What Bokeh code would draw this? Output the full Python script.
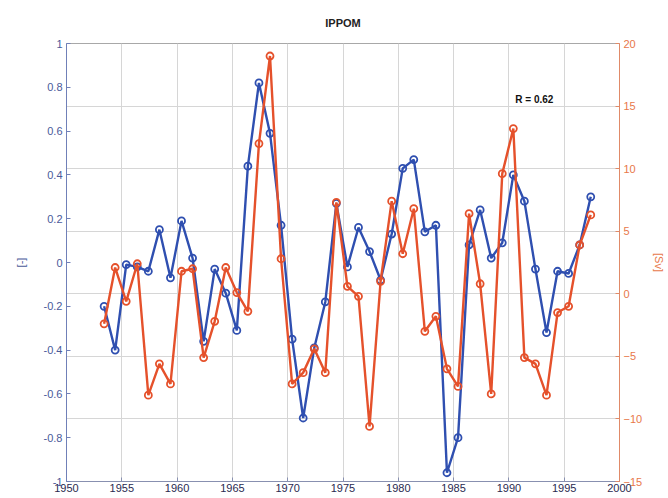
from bokeh.plotting import figure
from bokeh.models import (Range1d, LinearAxis, FixedTicker, Grid, Label,
                          CustomJSTickFormatter, ColumnDataSource)
from bokeh.embed import file_html
from bokeh.resources import INLINE

# ---- data ----
years = list(range(1953, 1998))
ippom_index = [-0.20, -0.40, -0.01, -0.02, -0.04, 0.15, -0.07, 0.19, 0.02, -0.36,
               -0.03, -0.14, -0.31, 0.44, 0.82, 0.59, 0.17, -0.35, -0.71, -0.39,
               -0.18, 0.27, -0.02, 0.16, 0.05, -0.08, 0.13, 0.43, 0.47, 0.14,
               0.17, -0.96, -0.80, 0.08, 0.24, 0.02, 0.09, 0.40, 0.28, -0.03,
               -0.32, -0.04, -0.05, 0.08, 0.30]
transport_sv = [-2.4, 2.1, -0.6, 2.4, -8.1, -5.6, -7.2, 1.8, 2.0, -5.1,
                -2.2, 2.1, 0.1, -1.4, 12.0, 19.0, 2.8, -7.2, -6.3, -4.4,
                -6.3, 7.3, 0.6, -0.2, -10.6, 1.0, 7.4, 3.2, 6.8, -3.0,
                -1.8, -6.0, -7.4, 6.4, 0.8, -8.0, 9.6, 13.2, -5.1, -5.6,
                -8.1, -1.5, -1.0, 3.9, 6.3]
x_ticks = [1950, 1955, 1960, 1965, 1970, 1975, 1980, 1985, 1990, 1995, 2000]
left_ticks = [-1, -0.8, -0.6, -0.4, -0.2, 0, 0.2, 0.4, 0.6, 0.8, 1]
right_ticks = [-15, -10, -5, 0, 5, 10, 15, 20]
title_text = "IPPOM"
r_text = "R = 0.62"

BLUE = "#2f4fb0"
RED = "#e5512b"
FONT = "Liberation Sans"

src = ColumnDataSource(dict(x=[y + 0.4 for y in years], a=ippom_index, b=transport_sv))

p = figure(width=668, height=498, x_range=Range1d(1950, 2000), y_range=Range1d(-1, 1),
           output_backend="svg", toolbar_location=None,
           min_border_left=66, min_border_right=48, min_border_top=43, min_border_bottom=17,
           background_fill_color="white", border_fill_color="white")
p.extra_y_ranges = {"sv": Range1d(-15, 20)}

p.title.text = title_text
p.title.align = "center"
p.title.text_font = FONT
p.title.text_font_size = "11px"
p.title.text_font_style = "bold"
p.title.text_color = "#222222"
p.title.standoff = 29

p.outline_line_color = "#a8a8a8"

# grids
p.xgrid.ticker = FixedTicker(ticks=x_ticks)
p.xgrid.grid_line_color = "#d6d6d6"
p.ygrid.visible = False
p.add_layout(Grid(dimension=1, ticker=FixedTicker(ticks=right_ticks), y_range_name="sv",
                  grid_line_color="#d6d6d6"))

# x axis
xa = p.xaxis[0]
xa.ticker = FixedTicker(ticks=x_ticks)
xa.major_tick_in = 4
xa.major_tick_out = 0
xa.minor_tick_line_color = None
xa.axis_line_color = "#8890b0"
xa.major_tick_line_color = "#8890b0"
xa.major_label_text_font = FONT
xa.major_label_text_font_size = "11px"
xa.major_label_text_color = "#2a2a50"
xa.major_label_standoff = 2

# left axis
ya = p.yaxis[0]
ya.ticker = FixedTicker(ticks=left_ticks)
ya.formatter = CustomJSTickFormatter(code="return String(Math.round(tick*10)/10)")
ya.major_tick_in = 4
ya.major_tick_out = 0
ya.minor_tick_line_color = None
ya.axis_line_color = "#7080b8"
ya.major_tick_line_color = "#7080b8"
ya.major_label_text_font = FONT
ya.major_label_text_font_size = "11px"
ya.major_label_text_color = "#4a5a9a"
ya.major_label_standoff = 4
ya.axis_label = "[-]"
ya.axis_label_text_font = FONT
ya.axis_label_text_font_size = "11px"
ya.axis_label_text_font_style = "normal"
ya.axis_label_text_color = "#4a5a9a"
ya.axis_label_standoff = 14

# right axis
ra = LinearAxis(y_range_name="sv", ticker=FixedTicker(ticks=right_ticks), axis_label="[Sv]")
ra.major_tick_in = 4
ra.major_tick_out = 0
ra.minor_tick_line_color = None
ra.axis_line_color = "#e08a68"
ra.major_tick_line_color = "#e08a68"
ra.major_label_text_font = FONT
ra.major_label_text_font_size = "11px"
ra.major_label_text_color = "#e8784a"
ra.major_label_standoff = 4
ra.axis_label_text_font = FONT
ra.axis_label_text_font_size = "11px"
ra.axis_label_text_font_style = "normal"
ra.axis_label_text_color = "#e8784a"
ra.axis_label_standoff = 8
p.add_layout(ra, "right")

# series
p.line("x", "a", source=src, line_color=BLUE, line_width=2.4)
p.scatter("x", "a", source=src, marker="circle", size=7, line_color=BLUE, line_width=1.8,
          fill_color=None)
p.line("x", "b", source=src, y_range_name="sv", line_color=RED, line_width=2.4)
p.scatter("x", "b", source=src, y_range_name="sv", marker="circle", size=7, line_color=RED,
          line_width=1.8, fill_color=None)

p.add_layout(Label(x=1992.3, y=0.745, text=r_text, text_font=FONT, text_font_size="10px",
                   text_font_style="bold", text_align="center", text_baseline="middle",
                   text_color="#111111"))

open("out.html", "w").write(file_html(p, INLINE))
